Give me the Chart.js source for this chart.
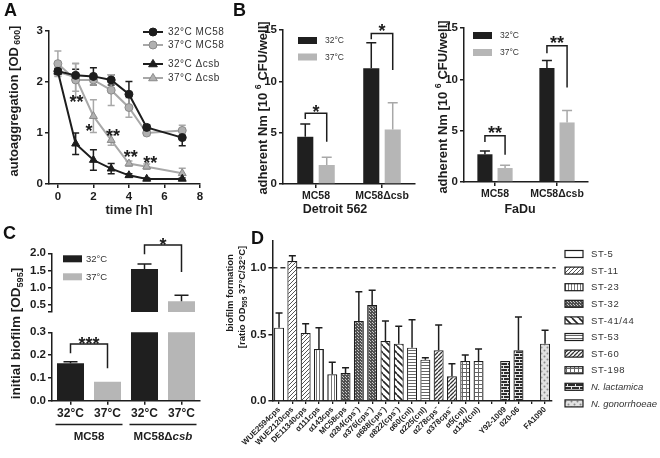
<!DOCTYPE html>
<html>
<head>
<meta charset="utf-8">
<title>Autoaggregation, adhesion and biofilm</title>
<script src="https://cdn.jsdelivr.net/npm/chart.js@4.4.3/dist/chart.umd.min.js"></script>
<style>
  html, body { margin: 0; padding: 0; background: #fff; }
  #fig { position: relative; width: 660px; height: 458px; overflow: hidden; background: #fff; }
  #fig canvas { position: absolute; }
  .tag { position: absolute; font: bold 18px "Liberation Sans", Arial, sans-serif; color: #111; line-height: 18px; }
</style>
</head>
<body>
<div id="fig">
  <canvas id="chartA" width="230" height="215" style="left:0;top:0"></canvas>
  <canvas id="chartB1" width="215" height="215" style="left:225px;top:0"></canvas>
  <canvas id="chartB2" width="230" height="215" style="left:430px;top:0"></canvas>
  <canvas id="chartC1" width="230" height="228" style="left:0;top:230px"></canvas>
  <canvas id="chartC2" width="230" height="91" style="left:0;top:230px"></canvas>
  <canvas id="chartD" width="438" height="238" style="left:222px;top:220px"></canvas>
  <div class="tag" style="left:4px;top:1px">A</div>
  <div class="tag" style="left:233px;top:1px">B</div>
  <div class="tag" style="left:3px;top:224px">C</div>
  <div class="tag" style="left:251px;top:229px">D</div>
</div>
<script>
// ---------- data ----------
// A: autoaggregation over time
const aTimes = [0, 1, 2, 3, 4, 5, 7];
const aXTicks = [0, 2, 4, 6, 8];
const aYTicks = [0, 1, 2, 3];
const aMc58At32 = [2.21, 2.13, 2.11, 2.04, 1.76, 1.11, 0.91];
const aMc58At32Err = [0.05, 0.12, 0.17, 0.1, 0.25, 0.05, 0.16];
const aMc58At37 = [2.36, 2.04, 2.04, 1.84, 1.5, 1.0, 1.05];
const aMc58At37Err = [0.25, 0.33, 0.1, 0.3, 0.19, 0.05, 0.1];
const aCsbAt32 = [2.2, 0.79, 0.47, 0.3, 0.17, 0.1, 0.1];
const aCsbAt32Err = [0.05, 0.21, 0.2, 0.1, 0.03, 0.02, 0.02];
const aCsbAt37 = [2.2, 2.09, 1.33, 0.86, 0.4, 0.34, 0.21];
const aCsbAt37Err = [0.08, 0.27, 0.32, 0.1, 0.05, 0.05, 0.1];
const aSignif = [
  { x: 1.05, y: 1.68, text: '**' },
  { x: 1.75, y: 1.11, text: '*' },
  { x: 3.1, y: 1.02, text: '**' },
  { x: 4.1, y: 0.6, text: '**' },
  { x: 5.2, y: 0.49, text: '**' },
];

// B: adherent bacteria on Detroit 562 and FaDu cells
const tempLabels = ['32°C', '37°C'];
const bStrains = ['MC58', 'MC58Δcsb'];
const bYTicks = [0, 5, 10, 15];
const bDetroit32 = [4.6, 11.27];
const bDetroit32Err = [1.24, 2.49];
const bDetroit37 = [1.85, 5.32];
const bDetroit37Err = [0.75, 2.6];
const bFadu32 = [2.7, 11.1];
const bFadu32Err = [0.33, 0.74];
const bFadu37 = [1.36, 5.8];
const bFadu37Err = [0.26, 1.17];

// C: initial biofilm (broken axis)
const cConditions = ['32°C', '37°C', '32°C', '37°C'];
const cBiofilm = [0.164, 0.083, 1.54, 0.6];
const cBiofilmErr = [0.007, 0, 0.15, 0.17];
const cLowerTicks = [0, 0.1, 0.2, 0.3];
const cUpperBreak = 0.28;
const cUpperTicks = [cUpperBreak, 0.5, 1.0, 1.5, 2.0];

// D: biofilm ratio 37/32 per strain
const dStrains = ['WUE2594cps', 'WUE2120cps', 'DE11340cps', 'α111cps', 'α143cps', 'MC58cps',
  'α284(cps⁻)', 'α376(cps⁻)', 'α688(cps⁻)', 'α822(cps⁻)', 'α60(cnl)', 'α225(cnl)',
  'α278cps⁻', 'α378cps⁻', 'α5(cnl)', 'α134(cnl)', '', 'Y92-1009', '020-06', '', 'FA1090'];
const dGroups = ['ST-5', 'ST-11', 'ST-11', 'ST-23', 'ST-23', 'ST-32', 'ST-32', 'ST-32',
  'ST-41/44', 'ST-41/44', 'ST-53', 'ST-53', 'ST-60', 'ST-60', 'ST-198', 'ST-198', null,
  'N. lactamica', 'N. lactamica', null, 'N. gonorrhoeae'];
const dRatio = [0.55, 1.05, 0.51, 0.39, 0.2, 0.21, 0.6, 0.72, 0.45, 0.43, 0.4, 0.31,
  0.38, 0.185, 0.3, 0.3, null, 0.3, 0.38, null, 0.43];
const dRatioErr = [0.11, 0.04, 0.07, 0.16, 0.09, 0.04, 0.22, 0.11, 0.15, 0.13, 0.21, 0.015,
  0.19, 0.095, 0.045, 0.09, null, 0, 0.25, null, 0.1];
const dYTicks = [0, 0.5, 1.0];
const dReference = 1.0;
const dLegendGroups = ['ST-5', 'ST-11', 'ST-23', 'ST-32', 'ST-41/44', 'ST-53', 'ST-60',
  'ST-198', 'N. lactamica', 'N. gonorrhoeae'];

// ---------- style helpers ----------
const FAMILY = '"Liberation Sans", Arial, Helvetica, sans-serif';
const INK = '#1d1d1d';
const BLACK_BAR = '#1f1f1f';
const GREY_BAR = '#b6b6b6';
const GREY_LINE = '#a8a8a8';

function tile(w, h, draw) {
  const c = document.createElement('canvas');
  c.width = w; c.height = h;
  const g = c.getContext('2d');
  draw(g);
  return g.createPattern(c, 'repeat');
}

function diag(g, size, color, width, back) {
  g.fillStyle = '#fff'; g.fillRect(0, 0, size, size);
  g.strokeStyle = color; g.lineWidth = width;
  g.beginPath();
  for (let k = -1; k <= 1; k++) {
    if (back) { g.moveTo(k * size, 0); g.lineTo(k * size + size, size); }
    else { g.moveTo(k * size, size); g.lineTo(k * size + size, 0); }
  }
  g.stroke();
}

const patterns = {
  'ST-5': '#ffffff',
  'ST-11': tile(4, 4, (g) => diag(g, 4, '#555', 1, false)),
  'ST-23': tile(3, 3, (g) => { g.fillStyle = '#fff'; g.fillRect(0, 0, 3, 3); g.fillStyle = '#777'; g.fillRect(1, 0, 1, 3); }),
  'ST-32': tile(3, 3, (g) => { g.fillStyle = '#505050'; g.fillRect(0, 0, 3, 3); g.fillStyle = '#c8c8c8'; g.fillRect(1, 1, 1, 1); g.fillRect(0, 0, 1, 1); }),
  'ST-41/44': tile(7, 7, (g) => diag(g, 7, '#222', 1.6, true)),
  'ST-53': tile(3, 3, (g) => { g.fillStyle = '#fff'; g.fillRect(0, 0, 3, 3); g.fillStyle = '#666'; g.fillRect(0, 1, 3, 1); }),
  'ST-60': tile(4, 4, (g) => diag(g, 4, '#333', 1.3, false)),
  'ST-198': tile(4, 4, (g) => { g.fillStyle = '#fff'; g.fillRect(0, 0, 4, 4); g.fillStyle = '#666'; g.fillRect(0, 0, 4, 1); g.fillRect(0, 0, 1, 4); }),
  'N. lactamica': tile(8, 6, (g) => {
    g.fillStyle = '#2b2b2b'; g.fillRect(0, 0, 8, 6);
    g.fillStyle = '#e8e8e8'; g.fillRect(0, 1, 8, 1); g.fillRect(0, 4, 8, 1);
    g.fillRect(1, 2, 1, 2); g.fillRect(5, 5, 1, 1); g.fillRect(5, 0, 1, 1);
  }),
  'N. gonorrhoeae': tile(6, 6, (g) => {
    g.fillStyle = '#e2e2e2'; g.fillRect(0, 0, 6, 6);
    g.fillStyle = '#8a8a8a';
    g.beginPath(); g.arc(1.5, 1.5, 1, 0, Math.PI * 2); g.arc(4.5, 4.5, 1, 0, Math.PI * 2); g.fill();
  }),
};

function drawRich(ctx, parts, x, y, rot, size, weight) {
  ctx.save();
  ctx.translate(x, y);
  ctx.rotate(rot);
  ctx.fillStyle = INK;
  ctx.textBaseline = 'alphabetic';
  ctx.textAlign = 'left';
  const spec = parts.map(([t, kind]) => {
    const small = kind === 'sub' || kind === 'sup';
    const s = small ? size * 0.68 : size;
    const f = `${kind === 'it' ? 'italic ' : ''}${weight} ${s}px ${FAMILY}`;
    ctx.font = f;
    return { t, f, w: ctx.measureText(t).width, dy: kind === 'sub' ? size * 0.2 : kind === 'sup' ? -size * 0.42 : 0 };
  });
  const total = spec.reduce((a, p) => a + p.w, 0);
  let cx = -total / 2;
  spec.forEach((p) => {
    ctx.font = p.f;
    ctx.fillText(p.t, cx, size * 0.36 + p.dy);
    cx += p.w;
  });
  ctx.restore();
}

function drawStars(ctx, text, cx, cy) {
  ctx.save();
  ctx.fillStyle = INK;
  ctx.font = `bold 18px ${FAMILY}`;
  ctx.textAlign = 'center';
  ctx.textBaseline = 'alphabetic';
  ctx.fillText(text, cx, cy + 10);
  ctx.restore();
}

function makeExtras(cfg) {
  return {
    id: 'extras',
    beforeDatasetsDraw(chart) {
      const { ctx, chartArea: ca } = chart;
      const y = chart.scales.y;
      if (cfg.refLine != null) {
        const py = y.getPixelForValue(cfg.refLine);
        ctx.save();
        ctx.strokeStyle = '#333'; ctx.lineWidth = 1.5; ctx.setLineDash([5, 3]);
        ctx.beginPath(); ctx.moveTo(ca.left, py); ctx.lineTo(ca.right + 4, py); ctx.stroke();
        ctx.restore();
      }
      (cfg.lineErrors || []).forEach(({ ds, err, color }) => {
        const meta = chart.getDatasetMeta(ds);
        const vals = chart.data.datasets[ds].data;
        ctx.save();
        ctx.strokeStyle = color; ctx.lineWidth = 1.5;
        meta.data.forEach((pt, i) => {
          const v = vals[i].y, e = err[i];
          if (!e) return;
          const y1 = y.getPixelForValue(v + e), y2 = y.getPixelForValue(v - e);
          ctx.beginPath();
          ctx.moveTo(pt.x, y1); ctx.lineTo(pt.x, y2);
          ctx.moveTo(pt.x - 3.5, y1); ctx.lineTo(pt.x + 3.5, y1);
          ctx.moveTo(pt.x - 3.5, y2); ctx.lineTo(pt.x + 3.5, y2);
          ctx.stroke();
        });
        ctx.restore();
      });
    },
    afterDatasetsDraw(chart) {
      const { ctx, chartArea: ca } = chart;
      const y = chart.scales.y;
      if (!cfg.barErrors) return;
      ctx.save();
      ctx.beginPath();
      ctx.rect(ca.left, ca.top - 2, ca.right - ca.left, ca.bottom - ca.top + 2);
      ctx.clip();
      cfg.barErrors.forEach(({ ds, err, color, cap }) => {
        const meta = chart.getDatasetMeta(ds);
        const vals = chart.data.datasets[ds].data;
        ctx.strokeStyle = color; ctx.lineWidth = 1.5;
        meta.data.forEach((bar, i) => {
          const v = vals[i], e = err[i];
          if (v == null || !e) return;
          const top = y.getPixelForValue(v + e);
          ctx.beginPath();
          ctx.moveTo(bar.x, y.getPixelForValue(v)); ctx.lineTo(bar.x, top);
          ctx.moveTo(bar.x - cap, top); ctx.lineTo(bar.x + cap, top);
          ctx.stroke();
        });
      });
      ctx.restore();
    },
    afterDraw(chart) {
      const { ctx, chartArea: ca } = chart;
      const x = chart.scales.x, y = chart.scales.y;

      (cfg.brackets || []).forEach((b) => {
        const xa = chart.getDatasetMeta(b.a[0]).data[b.a[1]].x;
        const xb = chart.getDatasetMeta(b.b[0]).data[b.b[1]].x;
        const yy = y.getPixelForValue(b.y);
        ctx.save();
        ctx.strokeStyle = INK; ctx.lineWidth = 1.5;
        ctx.beginPath();
        ctx.moveTo(xa, y.getPixelForValue(b.la)); ctx.lineTo(xa, yy);
        ctx.lineTo(xb, yy); ctx.lineTo(xb, y.getPixelForValue(b.lb));
        ctx.stroke();
        ctx.restore();
        drawStars(ctx, b.text, (xa + xb) / 2, y.getPixelForValue(b.ty));
      });

      (cfg.marks || []).forEach((m) => drawStars(ctx, m.text, x.getPixelForValue(m.x), y.getPixelForValue(m.y)));

      if (cfg.boxLegend) {
        const L = cfg.boxLegend;
        L.items.forEach((it, i) => {
          const bx = ca.left + L.dx, by = ca.top + L.dy + i * L.step;
          ctx.fillStyle = it.color;
          ctx.fillRect(bx, by, L.w, L.h);
          ctx.fillStyle = '#333';
          ctx.font = `${L.size}px ${FAMILY}`;
          ctx.textBaseline = 'middle'; ctx.textAlign = 'left';
          ctx.fillText(it.label, bx + L.w + L.gap, by + L.h / 2 + 0.5);
        });
      }

      if (cfg.lineLegend) {
        const L = cfg.lineLegend;
        chart.data.datasets.forEach((ds, i) => {
          const ly = L.rows[i];
          ctx.save();
          ctx.strokeStyle = ds.borderColor; ctx.lineWidth = 2;
          ctx.beginPath(); ctx.moveTo(L.x0, ly); ctx.lineTo(L.x1, ly); ctx.stroke();
          const mx = (L.x0 + L.x1) / 2;
          ctx.fillStyle = ds.pointBackgroundColor; ctx.strokeStyle = ds.pointBorderColor; ctx.lineWidth = 1;
          ctx.beginPath();
          if (ds.pointStyle === 'triangle') {
            const r = ds.pointRadius;
            ctx.moveTo(mx, ly - r); ctx.lineTo(mx + r * 0.95, ly + r * 0.6); ctx.lineTo(mx - r * 0.95, ly + r * 0.6); ctx.closePath();
          } else {
            ctx.arc(mx, ly, ds.pointRadius, 0, Math.PI * 2);
          }
          ctx.fill(); ctx.stroke();
          ctx.fillStyle = '#333';
          ctx.font = `10px ${FAMILY}`;
          ctx.letterSpacing = '0.5px';
          ctx.textBaseline = 'middle'; ctx.textAlign = 'left';
          ctx.fillText(ds.label, L.text, ly + 0.5);
          ctx.restore();
        });
      }

      if (cfg.patternLegend) {
        const L = cfg.patternLegend;
        L.items.forEach((g, i) => {
          const ly = L.y0 + i * L.step;
          ctx.save();
          ctx.fillStyle = patterns[g];
          ctx.fillRect(L.x, ly - 3.5, 18, 7);
          ctx.strokeStyle = INK; ctx.lineWidth = 1.2;
          ctx.strokeRect(L.x, ly - 3.5, 18, 7);
          const italic = g.startsWith('N.');
          ctx.fillStyle = '#333';
          ctx.font = `${italic ? 'italic ' : ''}9.5px ${FAMILY}`;
          ctx.letterSpacing = italic ? '0px' : '0.6px';
          ctx.textBaseline = 'middle'; ctx.textAlign = 'left';
          ctx.fillText(g, L.text, ly + 0.5);
          ctx.restore();
        });
      }

      (cfg.groupLabels || []).forEach((gl) => {
        const x0 = x.getPixelForValue(gl.i0) - 15, x1 = x.getPixelForValue(gl.i1) + 15;
        ctx.save();
        ctx.strokeStyle = INK; ctx.lineWidth = 1.3;
        ctx.beginPath(); ctx.moveTo(x0, gl.lineY); ctx.lineTo(x1, gl.lineY); ctx.stroke();
        ctx.restore();
        drawRich(ctx, gl.parts, (x0 + x1) / 2, gl.textY, 0, 11.5, 'bold');
      });

      (cfg.titles || []).forEach((t) => drawRich(ctx, t.parts, t.x, t.y, t.rot || 0, t.size, t.weight || 'bold'));
    },
  };
}

function baseOptions(padding) {
  return {
    responsive: false,
    animation: false,
    devicePixelRatio: 1,
    events: [],
    layout: { padding },
    plugins: { legend: { display: false }, tooltip: { enabled: false } },
  };
}

function valueAxis(min, max, ticks, width, fmt, extra) {
  return Object.assign({
    type: 'linear',
    min, max,
    afterFit: (s) => { s.width = width; },
    afterBuildTicks: (s) => { s.ticks = ticks.map((v) => ({ value: v })); },
    border: { color: INK, width: 1.5 },
    grid: { drawOnChartArea: false, color: INK, lineWidth: 1.5, tickLength: 4 },
    ticks: {
      color: INK, padding: 2,
      font: { family: FAMILY, size: 11.5, weight: 'bold' },
      callback: fmt || ((v) => String(v)),
    },
  }, extra || {});
}

function categoryAxis(height, size, extra) {
  return Object.assign({
    type: 'category',
    afterFit: (s) => { s.height = height; },
    border: { color: INK, width: 1.5 },
    grid: { drawOnChartArea: false, offset: false, color: INK, lineWidth: 1.5, tickLength: 4 },
    ticks: {
      color: INK, padding: 2, autoSkip: false, maxRotation: 0, minRotation: 0,
      font: { family: FAMILY, size, weight: 'bold' },
    },
  }, extra || {});
}

// ---------- A ----------
const aSeries = [
  { label: '32°C MC58', values: aMc58At32, err: aMc58At32Err, line: INK, fill: INK, edge: INK, shape: 'circle' },
  { label: '37°C MC58', values: aMc58At37, err: aMc58At37Err, line: GREY_LINE, fill: '#b0b0b0', edge: '#8a8a8a', shape: 'circle' },
  { label: '32°C \u0394csb', values: aCsbAt32, err: aCsbAt32Err, line: INK, fill: INK, edge: INK, shape: 'triangle' },
  { label: '37°C \u0394csb', values: aCsbAt37, err: aCsbAt37Err, line: GREY_LINE, fill: '#b0b0b0', edge: '#8a8a8a', shape: 'triangle' },
];

new Chart(document.getElementById('chartA'), {
  type: 'line',
  data: {
    datasets: aSeries.map((s) => ({
      label: s.label,
      data: aTimes.map((t, i) => ({ x: t, y: s.values[i] })),
      borderColor: s.line, borderWidth: 2, tension: 0,
      pointStyle: s.shape, pointRadius: s.shape === 'triangle' ? 4.6 : 4,
      pointBackgroundColor: s.fill, pointBorderColor: s.edge, pointBorderWidth: 1,
    })),
  },
  options: Object.assign(baseOptions({ top: 31, right: 30, left: 0, bottom: 0 }), {
    scales: {
      x: valueAxis(-0.5, 8, aXTicks, 0, null, { afterFit: (s) => { s.height = 31; } }),
      y: valueAxis(0, 3, aYTicks, 49),
    },
  }),
  plugins: [makeExtras({
    lineErrors: aSeries.map((s, i) => ({ ds: i, err: s.err, color: s.line })),
    marks: aSignif,
    lineLegend: { x0: 143, x1: 163, text: 168, rows: [32, 45, 64, 78] },
    titles: [
      { parts: [['autoaggregation [OD', ''], [' 600', 'sub'], [']', '']], x: 13, y: 101, rot: -Math.PI / 2, size: 13 },
      { parts: [['time [h]', '']], x: 129, y: 209, size: 13 },
    ],
  })],
});

// ---------- B ----------
function adhesionChart(id, v32, e32, v37, e37, layout) {
  new Chart(document.getElementById(id), {
    type: 'bar',
    data: {
      labels: bStrains,
      datasets: [
        { label: tempLabels[0], data: v32, backgroundColor: BLACK_BAR, barPercentage: 0.75, categoryPercentage: 0.65 },
        { label: tempLabels[1], data: v37, backgroundColor: GREY_BAR, barPercentage: 0.75, categoryPercentage: 0.65 },
      ],
    },
    options: Object.assign(baseOptions(layout.padding), {
      scales: {
        x: categoryAxis(layout.xHeight, 10.5),
        y: valueAxis(0, 15, bYTicks, layout.yWidth),
      },
    }),
    plugins: [makeExtras({
      barErrors: [
        { ds: 0, err: e32, color: INK, cap: 5 },
        { ds: 1, err: e37, color: GREY_LINE, cap: 5 },
      ],
      brackets: layout.brackets,
      boxLegend: Object.assign({ items: [{ label: tempLabels[0], color: BLACK_BAR }, { label: tempLabels[1], color: GREY_BAR }], w: 19, h: 7, gap: 8, size: 8.5 }, layout.legend),
      titles: layout.titles,
    })],
  });
}

adhesionChart('chartB1', bDetroit32, bDetroit32Err, bDetroit37, bDetroit37Err, {
  padding: { top: 30, right: 25, left: 0, bottom: 0 }, xHeight: 31, yWidth: 58,
  legend: { dx: 15, dy: 7, step: 16.5 },
  brackets: [
    { a: [0, 0], b: [1, 0], y: 6.88, la: 6.33, lb: 4.12, ty: 7.45, text: '*' },
    { a: [0, 1], b: [1, 1], y: 14.67, la: 14.1, lb: 11.1, ty: 15.25, text: '*' },
  ],
  titles: [
    { parts: [['adherent Nm [10 ', ''], ['6', 'sup'], [' CFU/well]', '']], x: 37, y: 108, rot: -Math.PI / 2, size: 13 },
    { parts: [['Detroit 562', '']], x: 110, y: 208, size: 12.5 },
  ],
});

adhesionChart('chartB2', bFadu32, bFadu32Err, bFadu37, bFadu37Err, {
  padding: { top: 28, right: 72, left: 0, bottom: 0 }, xHeight: 33, yWidth: 34,
  legend: { dx: 9, dy: 4, step: 17 },
  brackets: [
    { a: [0, 0], b: [1, 0], y: 4.5, la: 3.9, lb: 2.65, ty: 5.2, text: '**' },
    { a: [0, 1], b: [1, 1], y: 13.27, la: 12.55, lb: 9.2, ty: 13.95, text: '**' },
  ],
  titles: [
    { parts: [['adherent Nm [10 ', ''], ['6', 'sup'], [' CFU/well]', '']], x: 12, y: 107, rot: -Math.PI / 2, size: 13 },
    { parts: [['FaDu', '']], x: 90, y: 208, size: 12.5 },
  ],
});

// ---------- C ----------
const cColors = cConditions.map((c) => (c === tempLabels[0] ? BLACK_BAR : GREY_BAR));
const cDataset = () => ({ data: cBiofilm, backgroundColor: cColors, barPercentage: 0.73, categoryPercentage: 1, clip: 0 });

new Chart(document.getElementById('chartC1'), {
  type: 'bar',
  data: { labels: cConditions, datasets: [cDataset()] },
  options: Object.assign(baseOptions({ top: 102.3, right: 30, left: 0, bottom: 0 }), {
    scales: {
      x: categoryAxis(57.3, 12),
      y: valueAxis(0, 0.3, cLowerTicks, 52, (v) => v.toFixed(1)),
    },
  }),
  plugins: [makeExtras({
    barErrors: [{ ds: 0, err: cBiofilmErr, color: INK, cap: 7 }],
    brackets: [{ a: [0, 0], b: [0, 1], y: 0.249, la: 0.208, lb: 0.142, ty: 0.268, text: '***' }],
    groupLabels: [
      { i0: 0, i1: 1, parts: [['MC58', '']], lineY: 194.5, textY: 206 },
      { i0: 2, i1: 3, parts: [['MC58\u0394', ''], ['csb', 'it']], lineY: 194.5, textY: 206 },
    ],
    titles: [
      { parts: [['initial biofilm [OD', ''], ['595', 'sub'], [']', '']], x: 15, y: 103.5, rot: -Math.PI / 2, size: 13.5 },
    ],
  })],
});

new Chart(document.getElementById('chartC2'), {
  type: 'bar',
  data: { labels: cConditions, datasets: [cDataset()] },
  options: Object.assign(baseOptions({ top: 23.3, right: 30, left: 0, bottom: 0 }), {
    scales: {
      x: categoryAxis(0, 12, { display: false }),
      y: valueAxis(cUpperBreak, 2.0, cUpperTicks, 52, (v) => (v === cUpperBreak ? '' : v.toFixed(1))),
    },
  }),
  plugins: [makeExtras({
    barErrors: [{ ds: 0, err: cBiofilmErr, color: INK, cap: 7 }],
    brackets: [{ a: [0, 2], b: [0, 3], y: 2.24, la: 1.97, lb: 1.45, ty: 2.36, text: '*' }],
    boxLegend: { items: [{ label: tempLabels[0], color: BLACK_BAR }, { label: tempLabels[1], color: GREY_BAR }], dx: 11, dy: 2, step: 18, w: 19, h: 7, gap: 4, size: 9.5 },
  })],
});

// ---------- D ----------
new Chart(document.getElementById('chartD'), {
  type: 'bar',
  data: {
    labels: dStrains,
    datasets: [{
      data: dRatio,
      backgroundColor: dGroups.map((g) => (g ? patterns[g] : 'transparent')),
      borderColor: INK, borderWidth: 1.2,
      barPercentage: 0.75, categoryPercentage: 1,
    }],
  },
  options: Object.assign(baseOptions({ top: 21, right: 108.3, left: 0, bottom: 0 }), {
    scales: {
      x: categoryAxis(57, 8, {
        grid: { drawOnChartArea: false, offset: false, color: INK, lineWidth: 1.3, tickLength: 3 },
        ticks: {
          color: INK, padding: 1, autoSkip: false, maxRotation: 45, minRotation: 45,
          font: { family: FAMILY, size: 8, weight: 'bold' },
        },
      }),
      y: valueAxis(0, 1.2, dYTicks, 50.4, (v) => v.toFixed(1)),
    },
  }),
  plugins: [makeExtras({
    refLine: dReference,
    barErrors: [{ ds: 0, err: dRatioErr, color: INK, cap: 3.5 }],
    patternLegend: { items: dLegendGroups, x: 343, text: 369, y0: 34, step: 16.6 },
    titles: [
      { parts: [['biofilm formation', '']], x: 8, y: 73, rot: -Math.PI / 2, size: 9.5 },
      { parts: [['[ratio OD', ''], ['595', 'sub'], [' 37°C/32°C]', '']], x: 20, y: 77, rot: -Math.PI / 2, size: 9.5 },
    ],
  })],
});
</script>
</body>
</html>
